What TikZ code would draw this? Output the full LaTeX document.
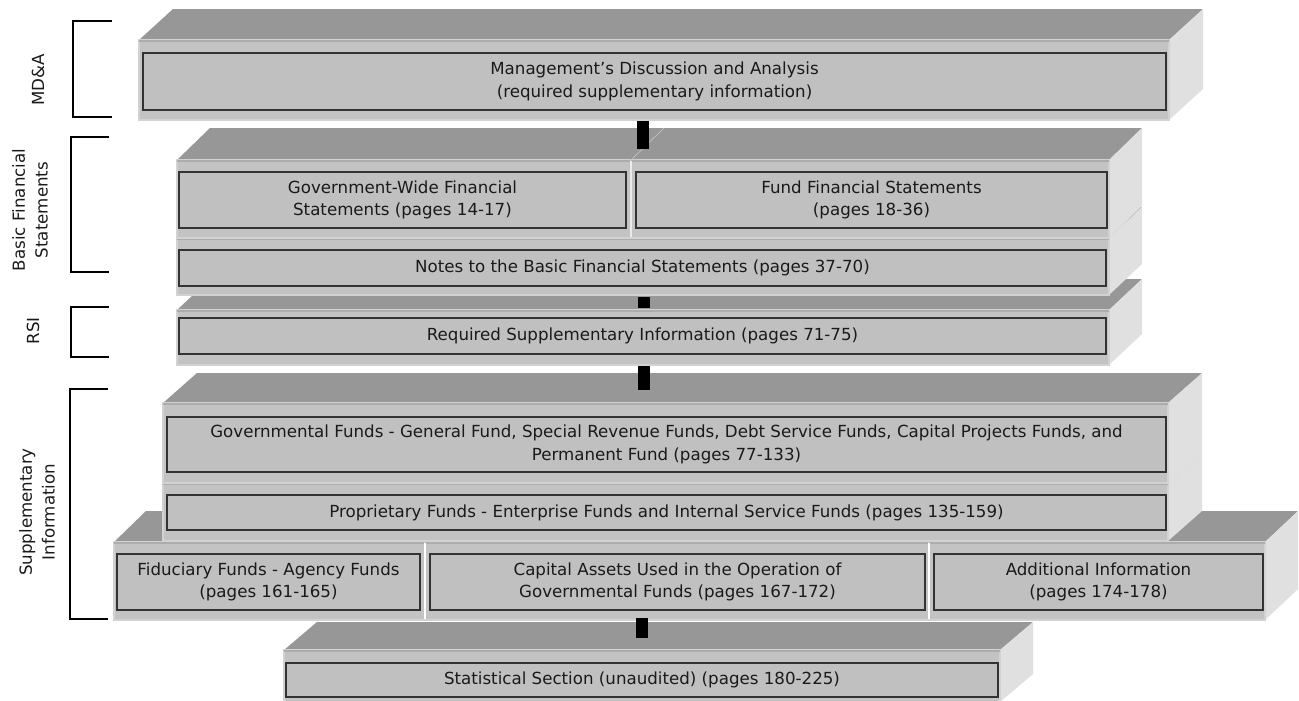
\documentclass[tikz,border=0pt]{standalone}
\usepackage{fontspec}
\setmainfont{DejaVu Sans}
\definecolor{topc}{HTML}{979797}
\definecolor{frontc}{HTML}{C3C3C3}
\definecolor{sidec}{HTML}{E0E0E0}
\definecolor{edgec}{HTML}{D2D2D2}
\definecolor{innerc}{HTML}{C0C0C0}
\definecolor{bordc}{HTML}{333333}
\definecolor{textc}{HTML}{1A1A1A}
\tikzset{
  topface/.style={fill=topc, draw=none},
  sideface/.style={fill=sidec, draw=none},
  frontface/.style={fill=frontc, draw=edgec, line width=0.9pt},
  innerbox/.style={draw=bordc, fill=innerc, line width=1.1pt, inner sep=0pt,
     align=center, text=textc, font=\fontsize{12.5}{17}\selectfont},
  sidelabel/.style={rotate=90, align=center, text=textc, inner sep=0pt,
     font=\fontsize{12.5}{17}\selectfont},
  bracket/.style={draw=black, line width=1.5pt},
  conn/.style={draw=black, line width=9pt, line cap=butt},
}
% #1,#2 front top-left; #3,#4 front bottom-right; #5 dx; #6 dy
\newcommand\threedbox[6]{%
  \fill[topface] (#1,#2) -- ({#1+#5},{#2-#6}) -- ({#3+#5},{#2-#6}) -- (#3,#2) -- cycle;
  \fill[sideface] (#3,#2) -- ({#3+#5},{#2-#6}) -- ({#3+#5},{#4-#6}) -- (#3,#4) -- cycle;
  \draw[frontface] (#1,#2) rectangle (#3,#4);
  \draw[draw=topc!80!white, line width=0.8pt] (#1,{#2+1}) -- (#3,{#2+1});
}
% name, x1,y1,x2,y2, text
\newcommand\innerrect[6]{%
  \node[innerbox, minimum width={(#4-#2)*0.75pt}, minimum height={(#5-#3)*0.75pt}]
    (#1) at ({(#2+#4)/2},{(#3+#5)/2}) {#6};
}
\begin{document}
\begin{tikzpicture}[x=0.75pt, y=-0.75pt]
\useasboundingbox (0,0) rectangle (1299,700);

% Statistical section
\threedbox{284}{650}{1000}{702}{33}{28}
\innerrect{stat}{286}{663}{998}{697}{Statistical Section (unaudited) (pages 180-225)}

% bottom tier of supplementary information
\threedbox{114}{542}{425}{620}{32}{31}
\threedbox{425}{542}{929}{620}{33}{31}
\threedbox{929}{542}{1265}{620}{33}{31}
\draw[white, line width=1.5pt] (425,543) -- (425,619);
\draw[white, line width=1.5pt] (929,543) -- (929,619);
\innerrect{fid}{117}{554}{420}{610}{Fiduciary Funds - Agency Funds\\(pages 161-165)}
\innerrect{cap}{430}{554}{925}{610}{Capital Assets Used in the Operation of\\Governmental Funds (pages 167-172)}
\innerrect{add}{934}{554}{1263}{610}{Additional Information\\(pages 174-178)}

% proprietary and governmental funds
\threedbox{163}{483}{1168}{541}{34}{30}
\innerrect{prop}{167}{495}{1166}{530}{Proprietary Funds - Enterprise Funds and Internal Service Funds (pages 135-159)}
\threedbox{163}{403}{1168}{483}{34}{30}
\innerrect{govf}{167}{417}{1166}{472}{Governmental Funds - General Fund, Special Revenue Funds, Debt Service Funds, Capital Projects Funds, and\\Permanent Fund (pages 77-133)}

% RSI
\threedbox{177}{310}{1109}{365}{33}{31}
\innerrect{rsi}{179}{318}{1106}{354}{Required Supplementary Information (pages 71-75)}

% Basic financial statements
\threedbox{177}{238}{1109}{295}{33}{31}
\innerrect{notes}{179}{250}{1106}{286}{Notes to the Basic Financial Statements (pages 37-70)}
\threedbox{177}{160}{631}{238}{33}{32}
\threedbox{631}{160}{1109}{238}{33}{32}
\draw[white!92!black, line width=1.5pt] (631,161) -- (631,237);
\draw[white!75!black, line width=0.5pt] (631,160) -- (664,128);
\innerrect{gw}{179}{172}{626}{228}{Government-Wide Financial\\Statements (pages 14-17)}
\innerrect{fund}{636}{172}{1107}{228}{Fund Financial Statements\\(pages 18-36)}

% MD&A
\threedbox{139}{40}{1169}{120}{34}{31}
\innerrect{mda}{143}{53}{1166}{110}{Management’s Discussion and Analysis\\(required supplementary information)}

% connectors
\coordinate (k1a) at (643,121); \coordinate (k1b) at (643,149);
\coordinate (k2a) at (644,297); \coordinate (k2b) at (644,308);
\coordinate (k3a) at (644,366); \coordinate (k3b) at (644,390);
\coordinate (k4a) at (642,618); \coordinate (k4b) at (642,638);
\draw[conn] (k1a) -- (k1b);
\draw[conn] (k2a) -- (k2b);
\draw[conn] (k3a) -- (k3b);
\draw[conn] (k4a) -- (k4b);

% brackets and labels
\coordinate (b1t) at (112,21); \coordinate (b1b) at (112,117);
\draw[bracket] (b1t) -- (73,21) -- (73,117) -- (b1b);
\node[sidelabel] (lmda) at (38,80) {MD\&A};

\coordinate (b2t) at (109,137); \coordinate (b2b) at (109,272);
\draw[bracket] (b2t) -- (71,137) -- (71,272) -- (b2b);
\node[sidelabel] (lbfs) at (30,210) {Basic Financial\\Statements};

\coordinate (b3t) at (109,307); \coordinate (b3b) at (109,357);
\draw[bracket] (b3t) -- (71,307) -- (71,357) -- (b3b);
\node[sidelabel] (lrsi) at (33,331) {RSI};

\coordinate (b4t) at (108,389); \coordinate (b4b) at (108,619);
\draw[bracket] (b4t) -- (70,389) -- (70,619) -- (b4b);
\node[sidelabel] (lsup) at (37,512) {Supplementary\\Information};
\end{tikzpicture}
\end{document}
